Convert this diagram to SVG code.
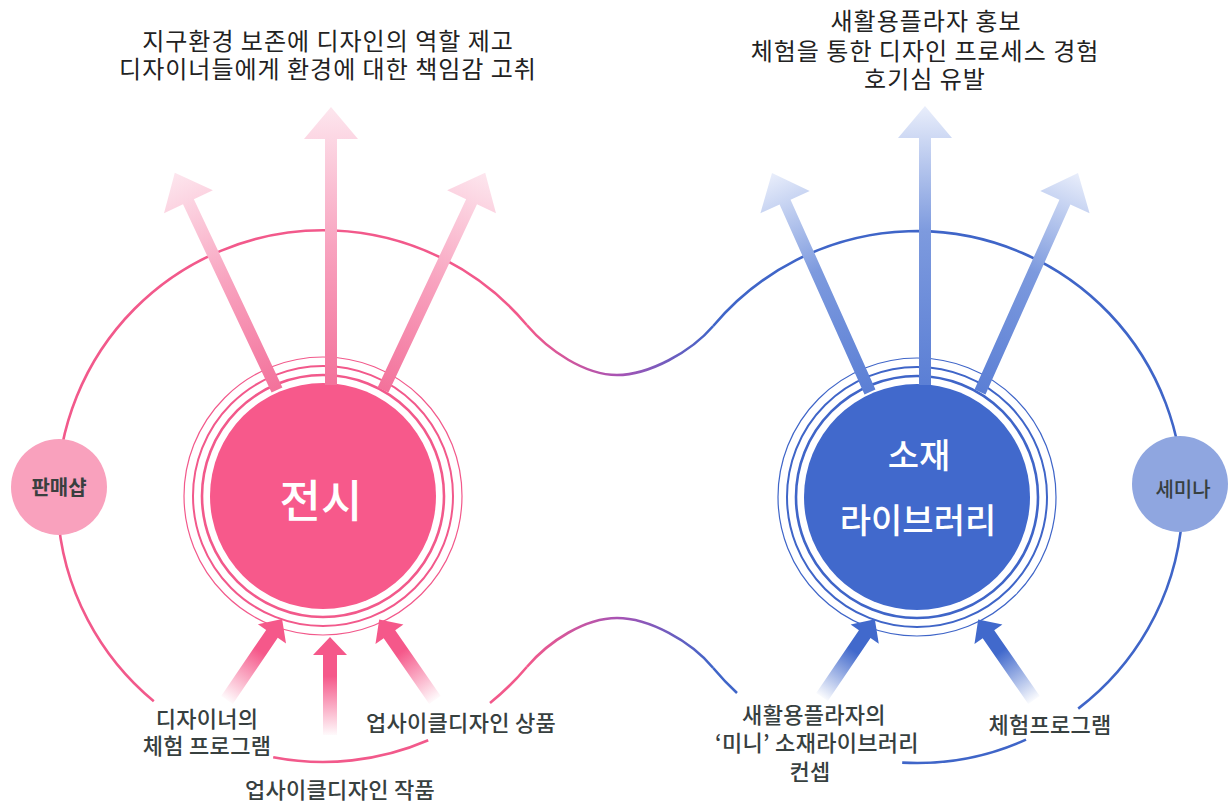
<svg xmlns="http://www.w3.org/2000/svg" width="1231" height="803" viewBox="0 0 1231 803">
<style>
.pk{fill:none;stroke:#f2598b;stroke-width:2.6}
.bl{fill:none;stroke:#3f65c8;stroke-width:2.6}
.rp{fill:none;stroke:#f2598b}
.rb{fill:none;stroke:#3f65c8}
.t{font-family:"Noto Sans CJK KR","Noto Sans",sans-serif;text-anchor:middle}
.title{font-size:24px;fill:#222;font-weight:400;letter-spacing:1px}
.lab{font-size:22px;fill:#37403f;font-weight:500;letter-spacing:0.3px}
.main{fill:#fff;font-weight:500}
</style>
<defs>
<linearGradient id="gBridge" gradientUnits="userSpaceOnUse" x1="527" y1="0" x2="713" y2="0">
<stop offset="0" stop-color="#f2598b"/>
<stop offset="0.5" stop-color="#a653b4"/>
<stop offset="1" stop-color="#3f65c8"/>
</linearGradient>
<linearGradient id="gUpPink" x1="0" y1="1" x2="0" y2="0">
<stop offset="0" stop-color="#f3729b"/>
<stop offset="0.5" stop-color="#f8a3bf"/>
<stop offset="1" stop-color="#fde6ee"/>
</linearGradient>
<linearGradient id="gUpBlue" x1="0" y1="1" x2="0" y2="0">
<stop offset="0" stop-color="#5b7fd5"/>
<stop offset="0.55" stop-color="#7d9ade"/>
<stop offset="1" stop-color="#e9eefb"/>
</linearGradient>
<linearGradient id="gInPink" x1="0" y1="1" x2="0" y2="0">
<stop offset="0" stop-color="#f5588a" stop-opacity="0.03"/>
<stop offset="0.6" stop-color="#f5588a" stop-opacity="1"/>
<stop offset="1" stop-color="#f5588a"/>
</linearGradient>
<linearGradient id="gInBlue" x1="0" y1="1" x2="0" y2="0">
<stop offset="0" stop-color="#4169cc" stop-opacity="0.03"/>
<stop offset="0.6" stop-color="#4169cc" stop-opacity="1"/>
<stop offset="1" stop-color="#4169cc"/>
</linearGradient>
</defs>

<g id="connectors">
<path class="pk" d="M153.8,701.3 A266,266 0 1 1 526.8,325"/>
<path fill="none" stroke="url(#gBridge)" stroke-width="2.6" d="M526.8,325 C549,351 585,375 617,375 C649,375 691,352 713.2,326"/>
<path class="bl" d="M713.2,326 A266,266 0 1 1 1078.2,708.6"/>
<path class="pk" d="M273.2,757.3 A266,266 0 0 0 428.2,740.3"/>
<path class="pk" d="M490,703 A266,266 0 0 0 526.8,667"/>
<path fill="none" stroke="url(#gBridge)" stroke-width="2.6" d="M526.8,667 C549,641 585,618 617,618 C649,618 691,641 713.2,668"/>
<path class="bl" d="M713.2,668 A266,266 0 0 0 737,693"/>
<path class="bl" d="M902.2,762.6 A266,266 0 0 0 1026,739.6"/>
</g>

<g id="node-exhibit">
<circle class="rp" cx="323" cy="496" r="139" stroke-width="1.2"/>
<circle class="rp" cx="323" cy="496" r="130" stroke-width="2"/>
<circle class="rp" cx="323" cy="496" r="121" stroke-width="2.6"/>
<circle cx="323" cy="496" r="113" fill="#f7598b"/>
<text class="t main" x="321" y="518" font-size="45">전시</text>
</g>

<g id="node-library">
<circle class="rb" cx="917" cy="497" r="139" stroke-width="1.2"/>
<circle class="rb" cx="917" cy="497" r="130" stroke-width="2"/>
<circle class="rb" cx="917" cy="497" r="121" stroke-width="2.6"/>
<circle cx="917" cy="497" r="113" fill="#4169cc"/>
<text class="t main" x="919" y="468" font-size="34">소재</text>
<text class="t main" x="918" y="533" font-size="34">라이브러리</text>
</g>

<g id="arrows">
<polygon fill="url(#gUpPink)" transform="translate(331,385)" points="-6,0 -6,-246 -27,-246 0,-278 27,-246 6,-246 6,0"/>
<polygon fill="url(#gUpPink)" transform="translate(277,390) rotate(-25.2)" points="-6,0 -6,-208 -27,-208 0,-240 27,-208 6,-208 6,0"/>
<polygon fill="url(#gUpPink)" transform="translate(383,390) rotate(25.2)" points="-6,0 -6,-208 -27,-208 0,-240 27,-208 6,-208 6,0"/>
<polygon fill="url(#gUpBlue)" transform="translate(925,385)" points="-6,0 -6,-247 -27,-247 0,-279 27,-247 6,-247 6,0"/>
<polygon fill="url(#gUpBlue)" transform="translate(870,392) rotate(-24.1)" points="-6,0 -6,-208 -27,-208 0,-240 27,-208 6,-208 6,0"/>
<polygon fill="url(#gUpBlue)" transform="translate(980,392) rotate(24.1)" points="-6,0 -6,-208 -27,-208 0,-240 27,-208 6,-208 6,0"/>
<polygon fill="url(#gInPink)" transform="translate(227,700) rotate(34.2)" points="-7,0 -7,-80 -17,-80 0,-98 17,-80 7,-80 7,0"/>
<polygon fill="url(#gInPink)" transform="translate(330,735)" points="-7,0 -7,-80 -17,-80 0,-98 17,-80 7,-80 7,0"/>
<polygon fill="url(#gInPink)" transform="translate(435,700) rotate(-34.7)" points="-7,0 -7,-80 -17,-80 0,-98 17,-80 7,-80 7,0"/>
<polygon fill="url(#gInBlue)" transform="translate(822,697) rotate(34.2)" points="-7,0 -7,-76 -17,-76 0,-94 17,-76 7,-76 7,0"/>
<polygon fill="url(#gInBlue)" transform="translate(1034,700) rotate(-34.7)" points="-7,0 -7,-80 -17,-80 0,-98 17,-80 7,-80 7,0"/>
</g>

<g id="node-shop">
<circle cx="59" cy="487" r="48" fill="#f9a1bd"/>
<text class="t" x="59" y="495" font-size="20" font-weight="700" fill="#3a3f3f">판매샵</text>
</g>

<g id="node-seminar">
<circle cx="1180" cy="484" r="48" fill="#8fa6e0"/>
<text class="t" x="1183" y="497" font-size="20" font-weight="500" fill="#37403f">세미나</text>
</g>

<g id="title-left">
<text class="t title" x="328" y="50">지구환경 보존에 디자인의 역할 제고</text>
<text class="t title" x="328" y="78">디자이너들에게 환경에 대한 책임감 고취</text>
</g>

<g id="title-right">
<text class="t title" x="926" y="30">새활용플라자 홍보</text>
<text class="t title" x="925" y="60">체험을 통한 디자인 프로세스 경험</text>
<text class="t title" x="925" y="88">호기심 유발</text>
</g>

<g id="label-designer-program">
<text class="t lab" x="207" y="727">디자이너의</text>
<text class="t lab" x="207" y="754">체험 프로그램</text>
</g>
<g id="label-upcycle-product">
<text class="t lab" x="461" y="731">업사이클디자인 상품</text>
</g>
<g id="label-upcycle-work">
<text class="t lab" x="340" y="798">업사이클디자인 작품</text>
</g>
<g id="label-mini-library">
<text class="t lab" x="814" y="723">새활용플라자의</text>
<text class="t lab" x="817" y="751">‘미니’ 소재라이브러리</text>
<text class="t lab" x="810" y="780">컨셉</text>
</g>
<g id="label-program">
<text class="t lab" x="1050" y="733">체험프로그램</text>
</g>
</svg>
